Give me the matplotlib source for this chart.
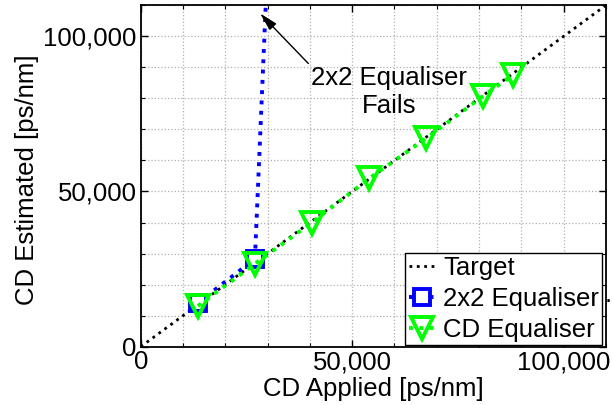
import matplotlib
matplotlib.use("Agg")
import matplotlib.pyplot as plt
from matplotlib.ticker import MultipleLocator, FuncFormatter

plt.rcParams['font.family'] = ['Liberation Sans', 'DejaVu Sans']
FS = 18.5

# chromatic dispersion sweep [ps/nm]
target_range = [0, 110000]
cd_applied = [13500, 27000, 40500, 54000, 67500, 81000, 88000]
cd_est_cd_eq = [13100, 26700, 40000, 54200, 67100, 80800, 87500]
# the 2x2 equaliser breaks down after the second point
cd_applied_2x2 = [13500, 27000, 40500]
cd_est_2x2 = [14100, 28300, 460000]


def thousands(v, pos):
    return "{:,.0f}".format(v)


fig = plt.figure(figsize=(6.12, 4.05), dpi=100)
ax = fig.add_axes([0.23, 0.144, 0.76, 0.843])

ax.plot(target_range, target_range, ':', color='black', lw=2, label='Target')
ax.plot(cd_applied_2x2, cd_est_2x2, ':', color=(0, 0, 1), lw=2.8,
        marker='s', ms=11, mew=2.8, mfc='white', mec=(0, 0, 1),
        label='2x2 Equaliser')
ax.plot(cd_applied, cd_est_cd_eq, ':', color=(0, 1, 0), lw=2.8,
        marker='v', ms=16, mew=2.8, mfc='none', mec=(0, 1, 0),
        label='CD Equaliser')

ax.set_xlim(0, 110000)
ax.set_ylim(0, 110000)
ax.xaxis.set_major_locator(MultipleLocator(50000))
ax.yaxis.set_major_locator(MultipleLocator(50000))
ax.xaxis.set_minor_locator(MultipleLocator(10000))
ax.yaxis.set_minor_locator(MultipleLocator(10000))
ax.xaxis.set_major_formatter(FuncFormatter(thousands))
ax.yaxis.set_major_formatter(FuncFormatter(thousands))
ax.grid(True, which='both', ls=':', color='#b0b0b0', lw=0.9)
ax.set_axisbelow(True)

ax.tick_params(which='both', direction='in', labelsize=FS,
               top=True, right=True)
ax.tick_params(axis='x', pad=2.5)
ax.tick_params(axis='y', pad=3)
ax.tick_params(which='major', length=5, width=1)
ax.tick_params(which='minor', length=3, width=0.8)
for sp in ax.spines.values():
    sp.set_linewidth(1.3)

ax.set_xlabel('CD Applied [ps/nm]', fontsize=FS)
ax.set_ylabel('CD Estimated [ps/nm]', fontsize=FS)
ax.xaxis.set_label_coords(0.5, -0.088)
ax.yaxis.set_label_coords(-0.218, 0.49)

ax.annotate('2x2 Equaliser\nFails', xy=(28200, 107400), xytext=(58700, 82000),
            fontsize=FS, ha='center', va='center', multialignment='center',
            arrowprops=dict(arrowstyle='-|>,head_length=0.6,head_width=0.15',
                            color='black', lw=1, shrinkA=0, shrinkB=0,
                            relpos=(0.0, 1.0)))

leg = ax.legend(loc='lower right', bbox_to_anchor=(0.992, 0.005), fontsize=FS,
                frameon=True, fancybox=False, edgecolor='black', framealpha=1,
                handlelength=1.05, handletextpad=0.3, labelspacing=0.27,
                borderpad=0.12, borderaxespad=0)
leg.get_frame().set_linewidth(1)
ax.text(0.997, 0.131, '.', transform=ax.transAxes, fontsize=FS,
        ha='left', va='baseline', clip_on=False)

fig.savefig('out.png', dpi=100)
